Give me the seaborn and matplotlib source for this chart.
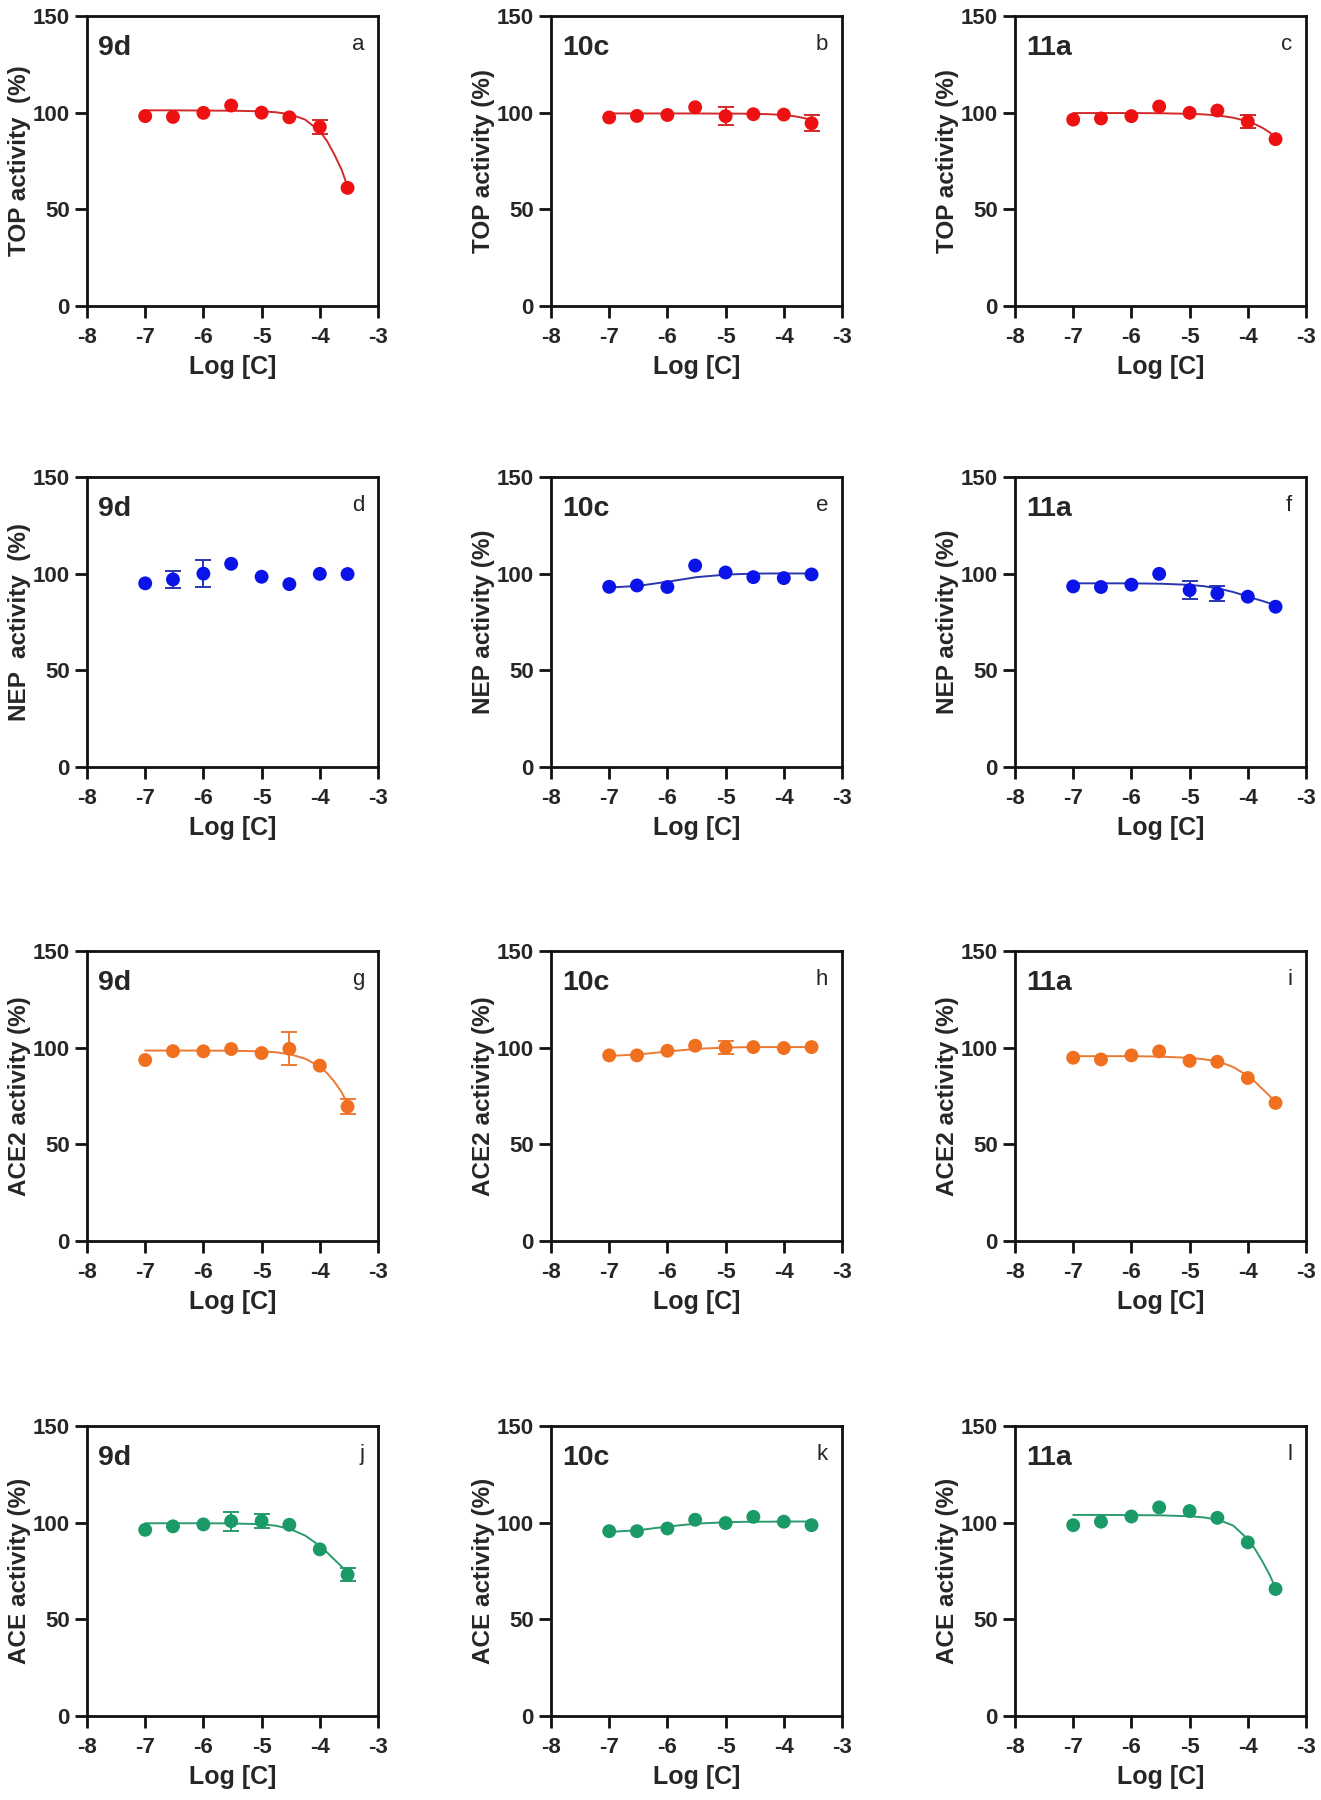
import numpy as np
import pandas as pd
import matplotlib
matplotlib.use("Agg")
import matplotlib.pyplot as plt
import seaborn as sns

# ---------------- data ----------------
log_c = [-7.0, -6.523, -6.0, -5.523, -5.0, -4.523, -4.0, -3.523]
curve_x = [-7.0, -6.5, -6.0, -5.5, -5.0, -4.75, -4.5, -4.25, -4.0, -3.875, -3.75, -3.625, -3.52]

enzymes = ["TOP", "NEP", "ACE2", "ACE"]
compounds = ["9d", "10c", "11a"]
panel_letters = ["a", "b", "c", "d", "e", "f", "g", "h", "i", "j", "k", "l"]

# mean activity (%) per panel
top_9d = [98.2, 97.8, 99.9, 103.7, 100.0, 97.6, 92.6, 61.1]
top_10c = [97.5, 98.3, 98.8, 102.8, 98.2, 99.2, 99.0, 94.5]
top_11a = [96.4, 97.0, 98.2, 103.2, 99.9, 101.1, 95.3, 86.3]
nep_9d = [95.0, 97.0, 100.0, 105.1, 98.4, 94.6, 99.9, 99.8]
nep_10c = [93.2, 93.9, 93.1, 104.2, 100.6, 98.2, 97.7, 99.6]
nep_11a = [93.4, 93.1, 94.3, 99.9, 91.5, 89.8, 88.1, 82.9]
ace2_9d = [93.6, 98.2, 98.1, 99.3, 97.2, 99.4, 90.7, 69.5]
ace2_10c = [96.0, 96.0, 98.4, 101.0, 100.1, 100.3, 99.8, 100.3]
ace2_11a = [94.8, 93.9, 96.0, 98.1, 93.2, 92.7, 84.3, 71.4]
ace_9d = [96.3, 98.1, 99.1, 100.8, 100.8, 98.9, 86.2, 73.1]
ace_10c = [95.6, 95.6, 97.0, 101.5, 99.8, 103.0, 100.5, 98.7]
ace_11a = [98.7, 100.5, 103.2, 107.9, 106.0, 102.5, 89.8, 65.7]

# error (SEM) per panel
top_9d_err = [0, 0, 0, 0, 0, 0, 3.6, 0]
top_10c_err = [0, 0, 0, 0, 4.8, 0, 0, 4.1]
top_11a_err = [0, 0, 0, 0, 0, 0, 3.3, 0]
nep_9d_err = [0, 4.3, 7.0, 0, 0, 0, 0, 0]
nep_10c_err = [0, 0, 0, 0, 0, 0, 0, 0]
nep_11a_err = [0, 0, 0, 0, 4.7, 3.8, 0, 0]
ace2_9d_err = [0, 0, 0, 0, 0, 8.6, 0, 4.0]
ace2_10c_err = [0, 0, 0, 0, 3.4, 0, 0, 0]
ace2_11a_err = [0, 0, 0, 0, 0, 0, 0, 0]
ace_9d_err = [0, 0, 0, 4.9, 3.6, 0, 0, 3.4]
ace_10c_err = [0, 0, 0, 0, 0, 0, 0, 0]
ace_11a_err = [0, 0, 0, 0, 0, 0, 0, 0]

# fitted curves (None = no curve)
top_9d_fit = [101.2, 101.2, 101.1, 101.0, 100.7, 100.2, 99.1, 96.4, 90.4, 85.3, 78.4, 70.5, 61.5]
top_10c_fit = [99.6, 99.6, 99.6, 99.6, 99.5, 99.5, 99.4, 99.2, 98.8, 98.4, 97.8, 97.0, 96.0]
top_11a_fit = [99.8, 99.8, 99.8, 99.7, 99.4, 99.1, 98.5, 97.4, 95.5, 94.0, 92.2, 89.8, 87.0]
nep_9d_fit = None
nep_10c_fit = [92.8, 93.7, 95.8, 98.2, 99.5, 99.8, 100.0, 100.1, 100.1, 100.1, 100.1, 100.1, 100.1]
nep_11a_fit = [95.0, 95.0, 95.0, 94.8, 94.2, 93.5, 92.3, 90.5, 88.2, 87.0, 85.9, 84.7, 83.5]
ace2_9d_fit = [98.5, 98.5, 98.5, 98.4, 98.1, 97.6, 96.5, 94.3, 90.2, 86.8, 82.4, 77.0, 70.5]
ace2_10c_fit = [95.7, 96.5, 98.0, 99.4, 100.0, 100.2, 100.3, 100.3, 100.3, 100.3, 100.3, 100.3, 100.3]
ace2_11a_fit = [95.6, 95.6, 95.6, 95.4, 94.7, 94.0, 92.8, 90.0, 85.4, 82.3, 78.7, 75.0, 71.5]
ace_9d_fit = [99.7, 99.7, 99.7, 99.6, 99.2, 98.4, 96.6, 93.3, 88.0, 84.6, 80.9, 77.3, 74.0]
ace_10c_fit = [95.2, 96.1, 98.0, 99.5, 100.2, 100.4, 100.5, 100.5, 100.6, 100.6, 100.6, 100.6, 100.6]
ace_11a_fit = [104.0, 104.0, 103.9, 103.8, 103.3, 102.7, 101.4, 98.5, 91.5, 86.3, 80.0, 73.0, 66.0]

y_labels = [["TOP activity  (%)", "TOP activity (%)", "TOP activity (%)"],
            ["NEP  activity  (%)", "NEP activity (%)", "NEP activity (%)"],
            ["ACE2 activity (%)", "ACE2 activity (%)", "ACE2 activity (%)"],
            ["ACE activity (%)", "ACE activity (%)", "ACE activity (%)"]]
x_label = "Log [C]"
x_ticks = [-8, -7, -6, -5, -4, -3]
y_ticks = [0, 50, 100, 150]

means = [[top_9d, top_10c, top_11a], [nep_9d, nep_10c, nep_11a],
         [ace2_9d, ace2_10c, ace2_11a], [ace_9d, ace_10c, ace_11a]]
errs = [[top_9d_err, top_10c_err, top_11a_err], [nep_9d_err, nep_10c_err, nep_11a_err],
        [ace2_9d_err, ace2_10c_err, ace2_11a_err], [ace_9d_err, ace_10c_err, ace_11a_err]]
fits = [[top_9d_fit, top_10c_fit, top_11a_fit], [nep_9d_fit, nep_10c_fit, nep_11a_fit],
        [ace2_9d_fit, ace2_10c_fit, ace2_11a_fit], [ace_9d_fit, ace_10c_fit, ace_11a_fit]]

# ---------------- style ----------------
point_colors = ["#EE1111", "#0A14E8", "#F07020", "#1A9A66"]
line_colors = ["#D22A2A", "#2A36B0", "#EC7A35", "#2B9B6E"]

sns.set_style("ticks")
plt.rcParams["font.family"] = ["Liberation Sans", "DejaVu Sans"]

W, H = 1321, 1800
fig = plt.figure(figsize=(W / 100, H / 100), dpi=100)
fig.patch.set_facecolor("white")

lefts = [87, 551, 1015]
tops = [16, 477, 951, 1426]
aw, ah = 291, 290

for r in range(4):
    for c in range(3):
        ax = fig.add_axes([lefts[c] / W, 1 - (tops[r] + ah) / H, aw / W, ah / H])
        df = pd.DataFrame({"x": log_c, "y": means[r][c], "e": errs[r][c]})
        fit = fits[r][c]
        if fit is not None:
            dfit = pd.DataFrame({"x": curve_x, "y": fit})
            sns.lineplot(data=dfit, x="x", y="y", ax=ax, color=line_colors[r],
                         linewidth=1.4, sort=False, zorder=2)
        de = df[df["e"] > 0]
        if len(de):
            ax.errorbar(de["x"], de["y"], yerr=de["e"], fmt="none",
                        ecolor=line_colors[r], elinewidth=1.4, capsize=5.5,
                        capthick=1.4, zorder=3)
        sns.scatterplot(data=df, x="x", y="y", ax=ax, color=point_colors[r],
                        s=100, edgecolor="none", linewidth=0, zorder=4)
        ax.set_xlim(-8, -3)
        ax.set_ylim(0, 150)
        ax.set_xticks(x_ticks)
        ax.set_yticks(y_ticks)
        ax.set_xticklabels([str(t) for t in x_ticks])
        ax.set_yticklabels([str(t) for t in y_ticks])
        for sp in ax.spines.values():
            sp.set_visible(True)
            sp.set_linewidth(2.0)
            sp.set_color("#111111")
        ax.tick_params(axis="both", direction="out", length=8.5, width=2.0,
                       color="#111111", labelsize=16, pad=4)
        ax.tick_params(axis="x", pad=6.5)
        for lab in ax.get_xticklabels() + ax.get_yticklabels():
            lab.set_fontweight("bold")
        ax.set_xlabel(x_label, fontsize=18, fontweight="bold", labelpad=5)
        ax.set_ylabel(y_labels[r][c], fontsize=17.5, fontweight="bold", labelpad=1)
        ax.text(0.038, 0.935, compounds[c], transform=ax.transAxes,
                fontsize=20.5, fontweight="bold", ha="left", va="top")
        ax.text(0.952, 0.883, panel_letters[r * 3 + c], transform=ax.transAxes,
                fontsize=16, ha="right", va="baseline")

fig.savefig("out.png", dpi=100, facecolor="white")
